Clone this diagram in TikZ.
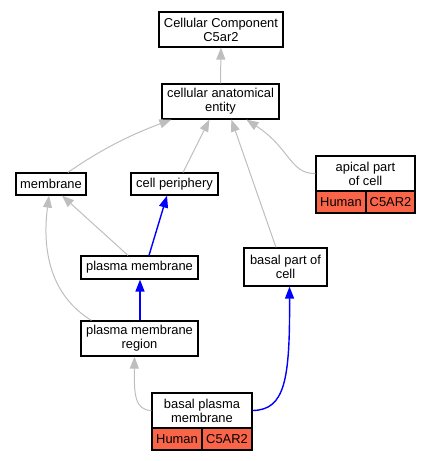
\documentclass[tikz,border=0pt]{standalone}
\usepackage{fontspec}
\setmainfont{Liberation Sans}
\usetikzlibrary{arrows.meta}
\definecolor{hum}{RGB}{250,100,72}
\definecolor{edgegray}{RGB}{190,190,190}

\begin{document}
\begin{tikzpicture}
[x=1pt,y=-1pt,>={Triangle[length=12pt,width=9pt]},
box/.style={draw,fill=white,line width=1.2pt,inner sep=0pt,align=center,font=\fontsize{12.9}{14}\selectfont},
cell/.style={box,fill=hum,minimum height=22pt},
isa/.style={->,draw=edgegray,line width=1pt},
partof/.style={->,draw=blue,line width=1.4pt},]

\useasboundingbox (0,0) rectangle (431,461);

\node (root) at (221, 29.5)[box,minimum width=124pt,minimum height=35pt]{Cellular Component\\C5ar2};
\node (cae) at (220.5, 101.5)[box,minimum width=117pt,minimum height=35pt]{cellular anatomical\\entity};
\node (membrane) at (51, 184)[box,minimum width=70pt,minimum height=22pt]{membrane};
\node (periphery) at (174.5, 184)[box,minimum width=87pt,minimum height=22pt]{cell periphery};
\node (apical) at (365.5, 173.5)[box,minimum width=99pt,minimum height=35pt]{apical part\\of cell};
\node (apicalhum) at (341, 202)[cell,minimum width=50pt]{Human};
\node (apicalgene) at (390.5, 202)[cell,minimum width=49pt]{C5AR2};
\node (pm) at (139.5, 267.5)[box,minimum width=117pt,minimum height=23pt]{plasma membrane};
\node (basalpart) at (285.5, 267)[box,minimum width=83pt,minimum height=38pt]{basal part of\\cell};
\node (pmr) at (139.5, 338.5)[box,minimum width=117pt,minimum height=35pt]{plasma membrane\\region};
\node (bpm) at (202, 410.5)[box,minimum width=100pt,minimum height=35pt]{basal plasma\\membrane};
\node (bpmhum) at (177, 439)[cell,minimum width=50pt]{Human};
\node (bpmgene) at (227, 439)[cell,minimum width=50pt]{C5AR2};

% is_a
\draw[isa] (cae.north) -- (root.south);
\draw[isa] ([xshift=17pt]membrane.north) .. controls (100,150) and (130,135) .. ([xshift=10pt]cae.south west);
\draw[isa] ([xshift=8.5pt]periphery.north) -- ([xshift=48pt]cae.south west);
\draw[isa] ([xshift=-9.5pt]basalpart.north) -- ([xshift=70pt]cae.south west);
\draw[isa] (apical.west) .. controls (290,174) and (290,148) .. ([xshift=85pt]cae.south west);
\draw[isa] ([xshift=-11.5pt]pm.north) -- ([xshift=11pt]membrane.south);
\draw[isa] ([xshift=11pt]pmr.north west) .. controls (50,295) and (42,250) .. ([xshift=-2pt]membrane.south);
\draw[isa] (bpm.west) .. controls (135,410) and (134,395) .. ([xshift=-5pt]pmr.south);

% part_of
\draw[partof] ([xshift=9.5pt]pm.north) -- ([xshift=-7.5pt]periphery.south);
\draw[partof] ([xshift=0.5pt]pmr.north) -- ([xshift=0.5pt]pm.south);
\draw[partof] (bpm.east) .. controls (285,410) and (290,380) .. ([xshift=4pt]basalpart.south);

\end{tikzpicture}
\end{document}
